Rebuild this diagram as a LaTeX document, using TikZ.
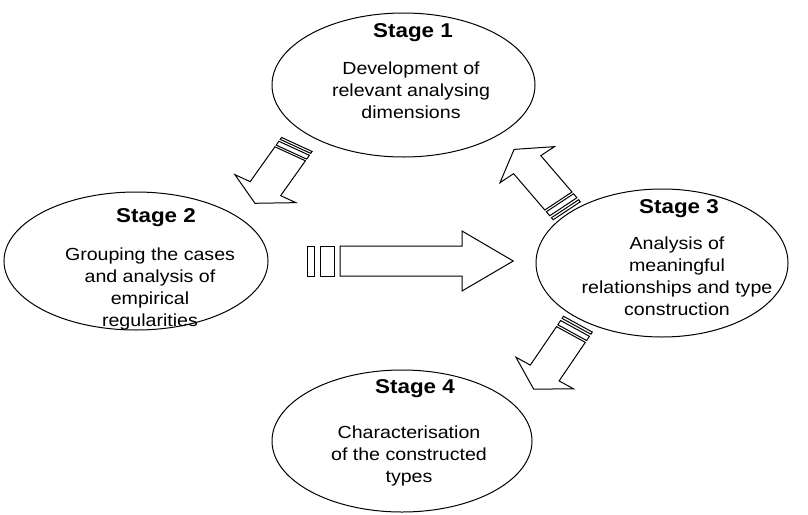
\documentclass[tikz,border=0pt]{standalone}
\usepackage{fontspec}
\setmainfont{Liberation Sans}[FakeStretch=1.12]
\usetikzlibrary{shapes.geometric}

\begin{document}
\begin{tikzpicture}[
  x=1pt, y=-1pt,
  line width=1pt,
  stage/.style={draw, ellipse, inner sep=0pt},
  title/.style={anchor=base, inner sep=0pt, font=\fontsize{20}{22}\selectfont\bfseries},
  body/.style={anchor=north, inner sep=0pt, align=center, font=\fontsize{17.5}{22}\selectfont},
  stripedarrow/.pic={
    \draw (0,-0.5) -- (1,-0.5) -- (1,-1) -- (1.42,0) -- (1,1) -- (1,0.5) -- (0,0.5) -- cycle;
    \draw (-0.158,-0.5) -- (-0.049,-0.5) -- (-0.049,0.5) -- (-0.158,0.5) -- cycle;
    \draw (-0.268,-0.5) -- (-0.213,-0.5) -- (-0.213,0.5) -- (-0.268,0.5) -- cycle;
  }
]

\path [use as bounding box, fill=white] (0,0) rectangle (808,514);

% the four stages
\node [stage, minimum width=263, minimum height=144] (s1) at (403.5,85) {};
\node [stage, minimum width=264, minimum height=138] (s2) at (136,261) {};
\node [stage, minimum width=252, minimum height=148] (s3) at (662,263) {};
\node [stage, minimum width=260, minimum height=142] (s4) at (402,441) {};

\node [title] (t1) at (413,37.5) {Stage 1};
\node [body] (b1) at (411,61.5) {Development of\\relevant analysing\\dimensions};

\node [title] (t2) at (156,222) {Stage 2};
\node [body] (b2) at (150,247) {Grouping the cases\\and analysis of\\empirical\\regularities};

\node [title] (t3) at (679,213) {Stage 3};
\node [body] (b3) at (677,236) {Analysis of\\meaningful\\relationships and type\\construction};

\node [title] (t4) at (415,393) {Stage 4};
\node [body] (b4) at (409,425) {Characterisation\\of the constructed\\types};

% striped block arrows
\coordinate (a12) at (290.2,153.8);
\coordinate (a23) at (340,261);
\coordinate (a31) at (558.4,201);
\coordinate (a34) at (570.9,334.5);

\pic [x={(-24.8pt,-34.85pt)}, y={(30.5pt,-14pt)}] at (a12) {stripedarrow};
\pic [x={(122pt,0pt)}, y={(0pt,30pt)}] at (a23) {stripedarrow};
\pic [x={(-31.2pt,36.35pt)}, y={(27.2pt,18pt)}] at (a31) {stripedarrow};
\pic [x={(-26.2pt,-38.5pt)}, y={(28.8pt,-15.8pt)}] at (a34) {stripedarrow};

\end{tikzpicture}
\end{document}
